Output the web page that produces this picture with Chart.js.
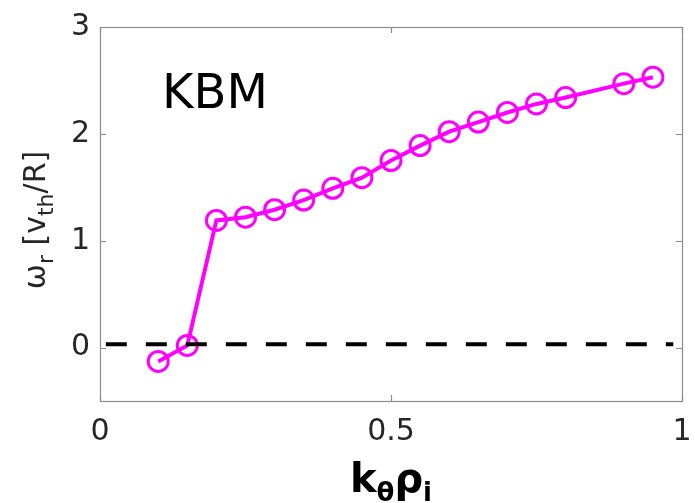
<!DOCTYPE html>
<html>
<head>
<meta charset="utf-8">
<script src="https://cdn.jsdelivr.net/npm/chart.js@4/dist/chart.umd.min.js"></script>
<style>
  body { margin: 0; background: #fff; }
  canvas { display: block; }
</style>
</head>
<body>
<canvas id="kbm" width="695" height="503"></canvas>
<script>
// real frequency of the KBM branch vs k_theta rho_i
const kRho = [0.1, 0.15, 0.2, 0.25, 0.3, 0.35, 0.4, 0.45, 0.5, 0.55, 0.6, 0.65, 0.7, 0.75, 0.8, 0.9, 0.95];
const omegaR = [-0.13, 0.02, 1.19, 1.22, 1.29, 1.38, 1.49, 1.59, 1.75, 1.89, 2.02, 2.11, 2.20, 2.28, 2.34, 2.47, 2.53];

// dashed reference level
const refX = [0.01, 0.985];
const refY = 0.03;

const xTicks = [0, 0.5, 1];
const xTickText = ["0", "0.5", "1"];
const yTicks = [0, 1, 2, 3];
const yTickText = ["0", "1", "2", "3"];

const FONT = "'DejaVu Sans', sans-serif";

function drawRich(ctx, parts, x, y) {
    // parts: [text, font, dy]; x is the centre of the whole run
    let total = 0;
    for (const p of parts) { ctx.font = p[1]; total += ctx.measureText(p[0]).width; }
    let cx = x - total / 2;
    ctx.textAlign = "left";
    ctx.textBaseline = "alphabetic";
    for (const p of parts) {
        ctx.font = p[1];
        ctx.fillText(p[0], cx, y + p[2]);
        cx += ctx.measureText(p[0]).width;
    }
}

const axesPlugin = {
    id: "matlabAxes",
    afterDraw(chart) {
        const ctx = chart.ctx;
        const a = chart.chartArea;
        const xs = chart.scales.x, ys = chart.scales.y;
        ctx.save();

        // box
        ctx.strokeStyle = "#8c8c8c";
        ctx.lineWidth = 1.2;
        ctx.strokeRect(a.left + 0.5, a.top + 0.5, a.right - a.left, a.bottom - a.top);

        // inward ticks
        const tl = 6;
        ctx.beginPath();
        for (const v of xTicks) {
            const px = Math.round(xs.getPixelForValue(v)) + 0.5;
            ctx.moveTo(px, a.bottom); ctx.lineTo(px, a.bottom - tl);
            ctx.moveTo(px, a.top); ctx.lineTo(px, a.top + tl);
        }
        for (const v of yTicks) {
            const py = Math.round(ys.getPixelForValue(v)) + 0.5;
            ctx.moveTo(a.left, py); ctx.lineTo(a.left + tl, py);
            ctx.moveTo(a.right, py); ctx.lineTo(a.right - tl, py);
        }
        ctx.stroke();

        // tick labels
        ctx.fillStyle = "#262626";
        ctx.font = "30px " + FONT;
        ctx.textAlign = "center";
        ctx.textBaseline = "alphabetic";
        xTicks.forEach((v, i) => {
            ctx.fillText(xTickText[i], xs.getPixelForValue(v), a.bottom + 39);
        });
        ctx.textAlign = "right";
        ctx.textBaseline = "middle";
        yTicks.forEach((v, i) => {
            ctx.fillText(yTickText[i], a.left - 10, ys.getPixelForValue(v));
        });

        // panel tag
        ctx.fillStyle = "#000";
        ctx.font = "48px " + FONT;
        ctx.textAlign = "left";
        ctx.textBaseline = "alphabetic";
        ctx.fillText("KBM", 162, 108);

        // x label
        const big = "bold 40px " + FONT, small = "bold 26px " + FONT;
        ctx.fillStyle = "#000";
        drawRich(ctx, [["k", big, 0], ["θ", small, 9], ["ρ", big, 0], ["i", small, 9]],
                 xs.getPixelForValue(0.5), 492);

        // y label
        const m = "30px " + FONT, s = "22px " + FONT;
        ctx.fillStyle = "#262626";
        ctx.translate(45, (a.top + a.bottom) / 2 + 6);
        ctx.rotate(-Math.PI / 2);
        drawRich(ctx, [["ω", m, 0], ["r", s, 8], [" [v", m, 0], ["th", s, 8], ["/R]", m, 0]], 0, 0);

        ctx.restore();
    }
};

new Chart(document.getElementById("kbm").getContext("2d"), {
    type: "scatter",
    data: {
        datasets: [
            {
                data: refX.map(x => ({x: x, y: refY})),
                showLine: true,
                borderColor: "#000",
                borderWidth: 4,
                borderDash: [21, 19],
                pointRadius: 0,
                clip: false
            },
            {
                data: kRho.map((x, i) => ({x: x, y: omegaR[i]})),
                showLine: true,
                borderColor: "#ff00ff",
                borderWidth: 4,
                pointRadius: 10,
                pointBorderWidth: 3,
                pointBorderColor: "#ff00ff",
                pointBackgroundColor: "rgba(0,0,0,0)",
                clip: false
            }
        ]
    },
    options: {
        responsive: false,
        animation: false,
        layout: { padding: { left: 100, right: 9, top: 27, bottom: 102 } },
        plugins: { legend: { display: false }, tooltip: { enabled: false } },
        scales: {
            x: { type: "linear", min: 0, max: 1, display: false },
            y: { type: "linear", min: -0.5, max: 3, display: false }
        }
    },
    plugins: [axesPlugin]
});
</script>
</body>
</html>
